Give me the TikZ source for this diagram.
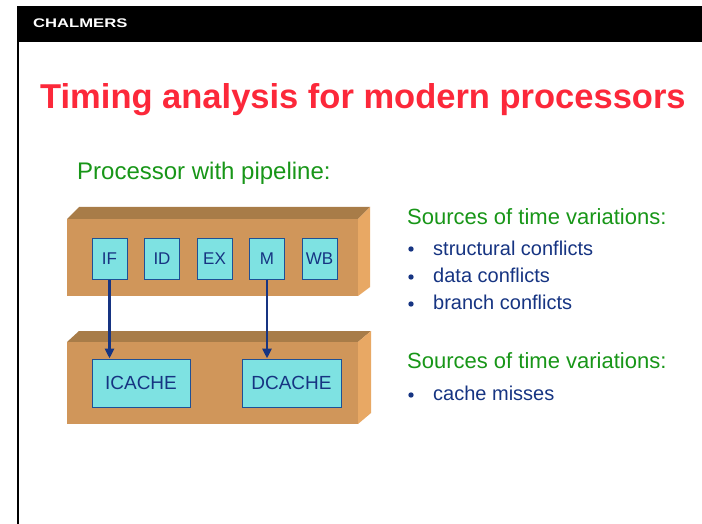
\documentclass[tikz,border=0pt]{standalone}
\usepackage{fontspec}
\setmainfont{Liberation Sans}
\usetikzlibrary{positioning,arrows.meta}
\definecolor{titlered}{RGB}{252,40,58}
\definecolor{headgreen}{RGB}{24,150,24}
\definecolor{textblue}{RGB}{22,52,130}
\definecolor{edgeblue}{RGB}{30,80,150}
\definecolor{stagecyan}{RGB}{126,226,226}
\definecolor{slabfront}{RGB}{208,150,90}
\definecolor{slabtop}{RGB}{168,124,72}
\definecolor{slabside}{RGB}{232,168,100}
\tikzset{
  stage/.style={draw=edgeblue,line width=1pt,fill=stagecyan,text=textblue,inner sep=0pt,
    minimum width=35pt,minimum height=41pt,font=\fontsize{17}{17}\selectfont},
  cache/.style={stage,minimum width=98pt,minimum height=48pt,font=\fontsize{19}{19}\selectfont},
  heading/.style={anchor=base west,inner sep=0pt,text=headgreen,font=\fontsize{22}{22}\selectfont},
  item/.style={anchor=base west,inner sep=0pt,text=textblue,font=\fontsize{20}{20}\selectfont}
}

\begin{document}
\begin{tikzpicture}[x=1pt,y=-1pt,>={Triangle[length=10pt,width=9pt]}]
      \useasboundingbox[fill=white] (0,0) rectangle (702,524);

      % frame and header
      \fill (16.5,6) rectangle (702,42.5);
      \fill (16.5,6) rectangle (18.5,524);
      \node[anchor=base west,inner sep=0pt,text=white,font=\bfseries\fontsize{12.5}{13}\selectfont]
        (chalmers) at (33,27.5) {\scalebox{1.33}[1]{CHALMERS}};
      \node[anchor=base west,inner sep=0pt,text=titlered,font=\bfseries\fontsize{34.5}{35}\selectfont]
        (title) at (40,109) {Timing analysis for modern processors};
      \node[heading,font=\fontsize{24}{24}\selectfont] (proc) at (77,179) {Processor with pipeline:};

      % the two slabs
      \fill[slabtop] (67,219) -- (79,207) -- (370,207) -- (358,219) -- cycle;
      \fill[slabside] (358,219) -- (370,207) -- (370,287) -- (358,296) -- cycle;
      \fill[slabfront] (67,219) rectangle (358,296);
      \fill[slabtop] (67,342) -- (79,331) -- (371,331) -- (358,342) -- cycle;
      \fill[slabside] (358,342) -- (371,331) -- (371,413) -- (358,424) -- cycle;
      \fill[slabfront] (67,342) rectangle (358,424);

      % pipeline stages
      \node[stage] (if) at (109.5,258.5) {IF};
      \node[stage,right=16.5pt of if] (id) {ID};
      \node[stage,right=16.5pt of id] (ex) {EX};
      \node[stage,right=16.5pt of ex] (m) {M};
      \node[stage,right=16.5pt of m] (wb) {WB};

      \node[cache] (icache) at (141,383) {ICACHE};
      \node[cache,right=51pt of icache,minimum width=99pt] (dcache) {DCACHE};

      \draw[->,draw=textblue,fill=textblue,line width=2.6pt] (if) -- (if |- icache.north);
      \draw[->,draw=textblue,fill=textblue,line width=2.6pt] (m) -- (m |- dcache.north);

      % sources of variation
      \node[heading] (src1) at (407,224) {Sources of time variations:};
      \node[item] (struct) at (433,255) {structural conflicts};
      \node[item] (data) at (433,282) {data conflicts};
      \node[item] (branch) at (433,309) {branch conflicts};
      \node[heading] (src2) at (407,368) {Sources of time variations:};
      \node[item] (miss) at (433,400) {cache misses};
      \foreach \y in {249,277,304,395}
        \fill[textblue] (411,\y) circle (2.7pt);
    \end{tikzpicture}
\end{document}
